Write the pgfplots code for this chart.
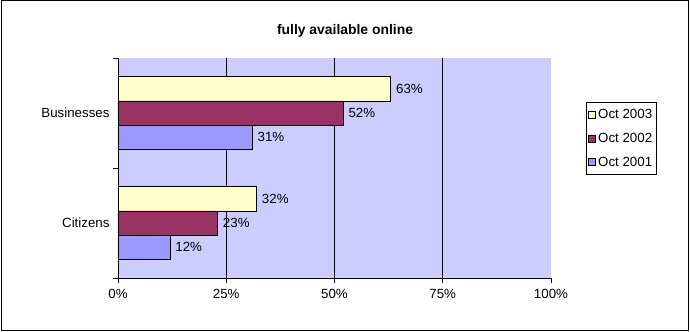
\documentclass[border=0pt]{standalone}
\usepackage{pgfplots}
\pgfplotsset{compat=1.18}
\usepackage{fontspec}
\setmainfont{Liberation Sans}
\definecolor{bgLav}{HTML}{CCCCFF}
\definecolor{cOct03}{HTML}{FFFFCC}
\definecolor{cOct02}{HTML}{993366}
\definecolor{cOct01}{HTML}{9999FF}
\newcommand{\fs}{\fontsize{13.3bp}{15bp}\selectfont}
\pgfplotsset{
  barbox/.style={
    xbar, bar width=0.22, draw=black, line width=0.8bp, point meta=x,
    legend image code/.code={\draw[##1, line width=0.8bp] (0bp,-3.5bp) rectangle (7bp,3.5bp);}
  }
}

\begin{document}
\begin{tikzpicture}
\useasboundingbox (0,0) rectangle (690bp,332bp);
\draw[line width=1bp] (1bp,1.5bp) rectangle (688.5bp,331bp);
\node[font=\fontsize{13.9bp}{16bp}\selectfont\bfseries, anchor=base] at (345bp,297bp) {fully available online};
\begin{axis}[
  at={(118bp,54bp)}, anchor=south west,
  scale only axis, width=433bp, height=220bp,
  xmin=0, xmax=100, ymin=-0.5, ymax=1.5,
  axis lines*=left,
  axis line style={line width=0.8bp, black},
  axis background/.style={fill=bgLav},
  /pgf/number format/assume math mode=true,
  xtick={0,25,50,75,100},
  xticklabels={0\%,25\%,50\%,75\%,100\%},
  extra x ticks={25,50,75},
  extra x tick labels={},
  extra x tick style={grid=major, major grid style={black, line width=0.8bp}},
  ytick={-0.5,0.5,1.5}, yticklabels={},
  extra y ticks={0,1},
  extra y tick labels={Citizens,Businesses},
  extra y tick style={major tick length=0pt},
  tick align=outside, major tick length=5bp,
  tick style={black, line width=0.8bp},
  tick label style={font=\fs},
  xticklabel style={yshift=-3bp},
  yticklabel style={xshift=-5bp},
  nodes near coords={\pgfmathprintnumber{\pgfplotspointmeta}\%},
  every node near coord/.append style={font=\fs, black, inner sep=0pt, xshift=5bp},
  legend cell align=left,
  legend style={at={(1.0808,0.8)}, anchor=north west, draw=black, line width=0.8bp,
    font=\fs, inner xsep=2bp, inner ysep=5bp, row sep=9bp, nodes={inner sep=2bp}},
]
% Oct 2003
\addplot[barbox, bar shift=0.22, fill=cOct03,
  every node near coord/.append style={yshift=24.2bp}] coordinates {(32,0) (63,1)};
% Oct 2002
\addplot[barbox, bar shift=0, fill=cOct02] coordinates {(23,0) (52,1)};
% Oct 2001
\addplot[barbox, bar shift=-0.22, fill=cOct01,
  every node near coord/.append style={yshift=-24.2bp}] coordinates {(12,0) (31,1)};
\legend{Oct 2003, Oct 2002, Oct 2001}
\end{axis}
\end{tikzpicture}
\end{document}
